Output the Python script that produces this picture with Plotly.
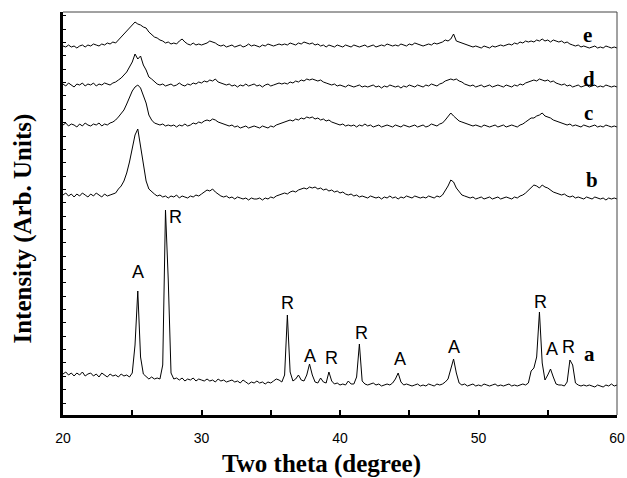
import plotly.graph_objects as go

# 2-theta sampling grid (degrees), 0.2 deg steps from 20 to 60
two_theta = [round(20 + 0.2 * k, 1) for k in range(201)]

# Intensities (arbitrary units, vertically offset stacks)
pattern_a = [
    41, 43, 40, 42, 39, 42, 40, 43, 39, 41,
    42, 39, 41, 38, 42, 40, 38, 41, 39, 40,
    38, 41, 39, 40, 38, 42, 70, 124, 58, 41,
    38, 36, 38, 36, 37, 36, 50, 205, 135, 42,
    36, 37, 35, 37, 34, 36, 35, 37, 34, 36,
    35, 34, 36, 34, 35, 33, 36, 34, 35, 33,
    34, 35, 33, 34, 32, 35, 33, 31, 33, 32,
    34, 32, 33, 31, 33, 32, 34, 36, 35, 33,
    40, 100, 43, 34, 36, 40, 35, 34, 40, 51,
    40, 33, 32, 37, 33, 32, 43, 34, 31, 32,
    30, 31, 30, 34, 31, 31, 38, 71, 34, 31,
    30, 31, 32, 30, 31, 29, 30, 31, 30, 32,
    36, 42, 33, 30, 31, 30, 29, 30, 31, 29,
    30, 29, 31, 30, 29, 31, 30, 31, 33, 36,
    46, 56, 42, 32, 30, 31, 29, 30, 31, 29,
    30, 29, 31, 30, 29, 30, 31, 29, 30, 29,
    30, 31, 29, 30, 29, 30, 31, 30, 32, 44,
    47, 58, 103, 52, 35, 40, 46, 38, 31, 30,
    30, 29, 33, 55, 50, 32, 30, 29, 30, 29,
    30, 29, 28, 30, 29, 28, 30, 29, 31, 29,
    30,
]
pattern_b = [
    220, 222, 219, 221, 218, 221, 219, 222, 220, 218,
    221, 219, 222, 220, 218, 221, 219, 220, 221, 222,
    226, 229, 234, 242, 253, 266, 280, 286, 268, 248,
    234, 226, 223, 221, 219, 220, 218, 219, 217, 219,
    218, 220, 217, 219, 218, 217, 219, 218, 220, 219,
    221, 223, 225, 224, 226, 223, 221, 219, 218, 219,
    217, 218, 216, 218, 217, 216, 217, 215, 217, 216,
    216, 217, 215, 217, 216, 218, 217, 219, 220, 221,
    222, 221, 223, 224, 223, 225, 226, 227, 226, 228,
    227, 228, 226, 227, 225, 226, 224, 225, 223, 224,
    222, 223, 221, 220, 221, 219, 220, 218, 219, 218,
    217, 219, 218, 217, 218, 216, 218, 217, 219, 217,
    218, 216, 218, 217, 219, 218, 217, 219, 218, 217,
    218, 217, 219, 218, 217, 219, 218, 220, 224, 229,
    235, 233, 227, 223, 220, 219, 218, 217, 218, 216,
    217, 218, 216, 217, 218, 216, 217, 218, 216, 217,
    218, 217, 216, 218, 217, 219, 220, 222, 225, 228,
    230, 229, 227, 230, 228, 227, 225, 223, 222, 221,
    220, 221, 219, 218, 219, 217, 218, 217, 216, 218,
    217, 216, 218, 217, 216, 217, 215, 217, 216, 217,
    216,
]
pattern_c = [
    290, 292, 289, 291, 290, 288, 291, 289, 292, 290,
    289, 291, 290, 292, 289, 291, 290, 292, 293, 295,
    298, 301, 305, 311, 318, 324, 328, 330, 327, 320,
    312, 300, 295, 292, 291, 290, 291, 289, 290, 289,
    290, 288, 290, 289, 291, 289, 290, 292, 291, 293,
    292, 294, 295, 294, 296, 295, 293, 292, 291, 290,
    289, 290, 288, 289, 287, 288, 289, 287, 288, 289,
    288, 287, 289, 288, 287, 289, 288, 290, 291, 292,
    293, 294, 295, 294, 296, 295, 297, 296, 298, 297,
    298, 296, 297, 295, 296, 294, 295, 293, 292, 291,
    290, 291, 289, 290, 289, 290, 288, 290, 289, 291,
    289, 290, 288, 289, 290, 288, 289, 290, 289, 288,
    290, 289, 288, 290, 289, 288, 289, 290, 288, 289,
    290, 288, 289, 291, 290, 289, 291, 292, 295, 298,
    302, 299, 296, 294, 293, 292, 291, 290, 289, 290,
    289, 288, 290, 289, 288, 289, 290, 288, 289, 290,
    288, 289, 290, 289, 288, 290, 291, 293, 295, 297,
    297, 299, 300, 302, 299, 298, 297, 295, 294, 293,
    292, 291, 290, 291, 289, 290, 289, 288, 290, 289,
    288, 289, 290, 288, 289, 288, 290, 289, 288, 289,
    288,
]
pattern_d = [
    331, 329, 332, 330, 328, 331, 330, 332, 329, 331,
    330, 332, 329, 331, 330, 332, 331, 330, 332, 333,
    335, 337, 340, 343, 348, 353, 361, 356, 359, 350,
    345, 338, 336, 333, 331, 330, 331, 329, 330, 331,
    329, 330, 332, 330, 329, 331, 330, 332, 331, 333,
    332, 334, 333, 335, 334, 336, 333, 332, 331, 330,
    331, 329, 330, 328, 330, 329, 331, 329, 330, 331,
    329, 330, 328, 330, 331, 329, 330, 331, 332, 331,
    332, 331, 333, 332, 334, 333, 335, 334, 336, 335,
    336, 335, 334, 335, 333, 332, 331, 330, 331, 329,
    330, 329, 328, 330, 329, 328, 329, 330, 328, 329,
    328, 329, 330, 328, 329, 327, 329, 328, 330, 329,
    328, 329, 327, 329, 328, 330, 329, 328, 330, 329,
    328, 330, 329, 331, 330, 329, 331, 332, 334, 335,
    336, 335, 336, 334, 333, 331, 330, 329, 330, 328,
    329, 330, 328, 329, 330, 328, 329, 330, 329, 328,
    330, 329, 328, 330, 329, 331, 330, 332, 333, 334,
    335, 334, 336, 335, 334, 335, 333, 334, 332, 331,
    330, 331, 329, 330, 328, 329, 330, 328, 329, 330,
    328, 329, 330, 328, 329, 328, 330, 329, 328, 329,
    328,
]
pattern_e = [
    369, 368, 370, 368, 369, 367, 369, 370, 368, 370,
    369, 371, 370, 369, 371, 370, 372, 371, 373, 372,
    375, 378, 381, 385, 387, 390, 393, 391, 390, 388,
    387, 383, 380, 378, 377, 375, 374, 372, 373, 371,
    372, 371, 374, 376, 373, 371, 370, 372, 370, 371,
    370, 371, 372, 374, 373, 372, 370, 369, 370, 368,
    369, 370, 368, 369, 370, 368, 369, 371, 369, 370,
    369, 368, 370, 369, 371, 370, 369, 370, 371, 370,
    371, 370, 372, 371, 370, 372, 371, 373, 372, 371,
    372, 370, 371, 369, 370, 368, 370, 369, 368, 370,
    369, 368, 370, 369, 368, 370, 369, 368, 369, 370,
    368, 369, 370, 368, 369, 370, 369, 371, 370, 369,
    370, 369, 371, 370, 369, 371, 370, 372, 371, 370,
    369, 370, 371, 370, 372, 371, 372, 373, 375, 374,
    376, 381, 374, 373, 372, 371, 370, 369, 368, 369,
    368, 367, 369, 368, 367, 369, 368, 369, 370, 369,
    370, 371, 370, 372, 371, 373, 372, 374, 373, 374,
    373, 375, 374, 376, 374, 375, 373, 375, 374, 373,
    374, 372, 373, 371, 370, 369, 370, 368, 369, 368,
    367, 368, 369, 367, 368, 367, 369, 368, 367, 368,
    367,
]
series = [pattern_a, pattern_b, pattern_c, pattern_d, pattern_e]
for s in series:
    assert len(s) == len(two_theta)

# Phase labels (A = anatase, R = rutile) on pattern a
phase_text = ["A", "R", "R", "A", "R", "R", "A", "A", "R", "A", "R"]
phase_x = [25.4, 28.14, 36.2, 37.85, 39.36, 41.55, 44.3, 48.25, 54.5, 55.34, 56.5]
phase_y = [143, 198, 112, 59, 57, 82, 56, 68, 113, 66, 68]

# Sample labels
sample_text = ["a", "b", "c", "d", "e"]
sample_x = [58.0, 58.2, 57.95, 57.95, 57.9]
sample_y = [61, 235, 302, 336, 380]

# X tick values / labels
x_tickvals = [20, 25, 30, 35, 40, 45, 50, 55, 60]
x_ticktext = ["20", "", "30", "", "40", "", "50", "", "60"]

fig = go.Figure()
for s in series:
    fig.add_trace(go.Scatter(x=two_theta, y=s, mode="lines",
                             line=dict(color="black", width=1),
                             showlegend=False, hoverinfo="skip"))

for t, x, y in zip(phase_text, phase_x, phase_y):
    fig.add_annotation(x=x, y=y, text=t, showarrow=False,
                       font=dict(family="Liberation Sans", size=18, color="black"),
                       xanchor="center", yanchor="middle")

for t, x, y in zip(sample_text, sample_x, sample_y):
    fig.add_annotation(x=x, y=y, text="<b>" + t + "</b>", showarrow=False,
                       font=dict(family="Liberation Serif", size=21, color="black"),
                       xanchor="center", yanchor="middle")

# axis titles
fig.add_annotation(xref="paper", yref="paper", x=0.4667, y=-0.1216,
                   text="<b>Two theta (degree)</b>", showarrow=False,
                   font=dict(family="Liberation Serif", size=25, color="black"),
                   xanchor="center", yanchor="middle")
fig.add_annotation(xref="paper", yref="paper", x=-0.073, y=0.4615,
                   text="<b>Intensity (Arb. Units)</b>", showarrow=False, textangle=-90,
                   font=dict(family="Liberation Serif", size=25, color="black"),
                   xanchor="center", yanchor="middle")

# thin top and right frame
fig.add_shape(type="line", xref="paper", yref="paper", x0=0, x1=1, y0=1, y1=1,
              line=dict(color="#444", width=1))
fig.add_shape(type="line", xref="paper", yref="paper", x0=1, x1=1, y0=0, y1=1,
              line=dict(color="#444", width=1))

fig.update_layout(
    width=627, height=478, autosize=False,
    margin=dict(l=63, r=2, t=12, b=63),
    paper_bgcolor="white", plot_bgcolor="white",
    xaxis=dict(range=[20, 60], tickmode="array", tickvals=x_tickvals, ticktext=x_ticktext,
               ticks="inside", ticklen=5, tickwidth=1.5, tickcolor="black",
               showline=True, linecolor="black", linewidth=2.5,
               showgrid=False, zeroline=False, ticklabelstandoff=8,
               ticklabeloverflow="allow",
               tickfont=dict(family="Liberation Sans", size=14, color="black")),
    yaxis=dict(range=[0, 403], tick0=12, dtick=13.35, ticks="inside", ticklen=3,
               tickwidth=1, tickcolor="black", showticklabels=False,
               showline=True, linecolor="black", linewidth=2.5,
               showgrid=False, zeroline=False),
)

# remove the default page margin so the 627x478 figure fills the window exactly
fig.write_html("out.html",
               config={"responsive": False, "displayModeBar": False},
               post_script="document.body.style.margin='0';document.body.style.overflow='hidden';")
